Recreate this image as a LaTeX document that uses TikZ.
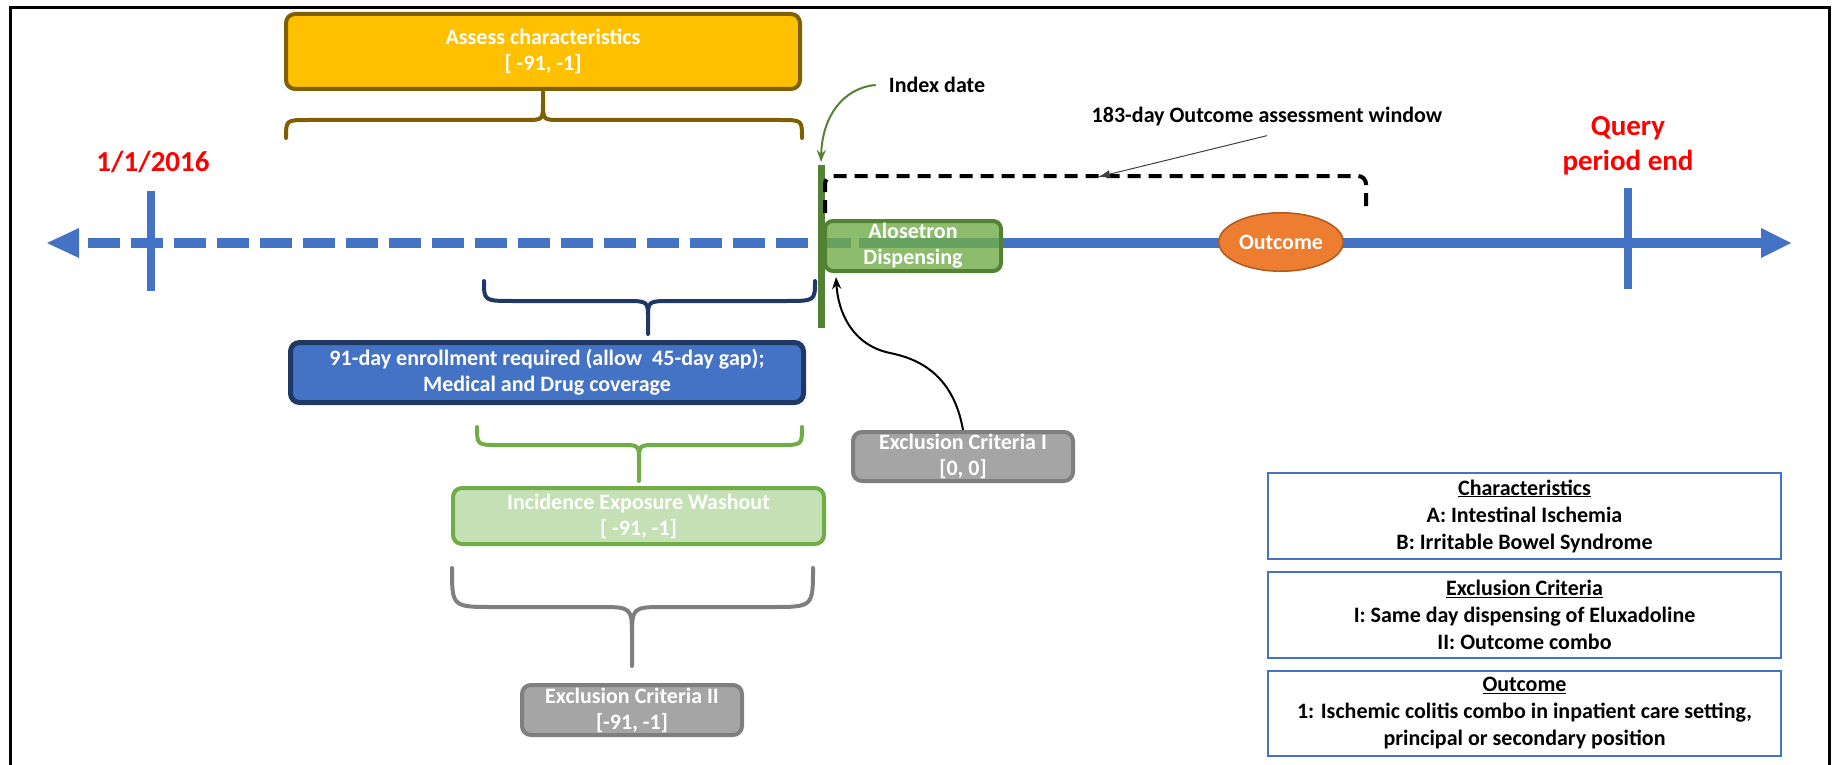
\documentclass[tikz,border=0pt]{standalone}
\usepackage{fontspec}
\setmainfont{Carlito}
\usetikzlibrary{arrows.meta,shapes.geometric}
\definecolor{axisblue}{HTML}{4472C4}
\definecolor{gold}{HTML}{FFC000}
\definecolor{goldB}{HTML}{7F6000}
\definecolor{navy}{HTML}{203864}
\definecolor{lgreen}{HTML}{C5E0B4}
\definecolor{mgreen}{HTML}{70AD47}
\definecolor{dgreen}{HTML}{548235}
\definecolor{gfill}{HTML}{A5A5A5}
\definecolor{gline}{HTML}{7F7F7F}
\definecolor{orangeF}{HTML}{ED7D31}
\definecolor{orangeB}{HTML}{AE5A21}
\definecolor{redT}{HTML}{FF0000}
\newcommand\regfont{\fontsize{22}{27}\selectfont\bfseries}
\newcommand\boldfont{\fontsize{22}{26}\selectfont\bfseries}
\newcommand\redfont{\fontsize{29}{35}\selectfont\bfseries}
% #1 style, #2 x1, #3 x2, #4 xt, #5 yend, #6 ymid, #7 ycurve, #8 ytip, #9 rx
\newcommand\mybrace[9]{%
  \draw[#1] (#2,#5) .. controls (#2,#6) .. ({#2+#9},#6) -- ({#4-0.8*#9},#6)
    .. controls (#4,#6) .. (#4,#7) -- (#4,#8) -- (#4,#7)
    .. controls (#4,#6) .. ({#4+0.8*#9},#6) -- ({#3-#9},#6)
    .. controls (#3,#6) .. (#3,#5);}
\begin{document}
\begin{tikzpicture}[x=1pt,y=-1pt,
  box/.style={draw, rounded corners=9pt, line width=4pt, align=center, inner sep=0pt, text=white, font=\boldfont},
  legbox/.style={draw=axisblue, line width=2pt, align=center, inner sep=0pt, font=\regfont, text=black, minimum width=513pt},
  lbl/.style={inner sep=0pt, font=\regfont, text=black},
  redlbl/.style={inner sep=0pt, font=\redfont, text=redT, align=center},
  bracestyle/.style={line width=4pt, line cap=round, line join=round}]
\useasboundingbox (0,0) rectangle (1833,765);
% frame
\draw[line width=3pt] (10,770) -- (10,8) -- (1829,8) -- (1829,770);

% axis
\draw[axisblue, line width=10.5pt, dash pattern=on 31.6pt off 11.4pt] (88,243) -- (853,243);
\draw[axisblue, line width=10.5pt] (859,243) -- (1763,243);
\fill[axisblue] (47,243) -- (79,228) -- (79,258) -- cycle;
\fill[axisblue] (1791,243) -- (1761,228) -- (1761,258) -- cycle;
\draw[axisblue, line width=7.5pt] (151,191) -- (151,291);
\draw[axisblue, line width=7.5pt] (1628,188) -- (1628,289);

% red labels
\node[redlbl] (start) at (153,162) {1/1/2016};
\node[redlbl] (qend) at (1628,146) {Query\\period end};

% assess box and brace
\node[box, draw=goldB, fill=gold, minimum width=514pt, minimum height=75pt] (assess) at (543,51.5) {Assess characteristics\\{[} -91, -1]};
\mybrace{bracestyle, goldB}{286}{802}{543}{138}{120}{102}{92}{22}

% index line
\draw[dgreen, line width=7pt] (821,165) -- (821,328);
\node[lbl] (idx) at (937,85) {Index date};
\coordinate (idxtop) at (821,162);
\draw[dgreen, line width=2pt, -{Stealth[length=12pt,width=9pt]}] ([xshift=-13pt]idx.west) .. controls (842,88) and (822,118) .. (idxtop);

% outcome window bracket
\draw[black, line width=4pt, dash pattern=on 13pt off 8pt, rounded corners=8pt] (825,213) -- (825,176) -- (1366,176) -- (1366,213);
\node[lbl] (win) at (1267,117) {183-day Outcome assessment window};
\coordinate (winptr) at (1098,177);
\draw[black!75, line width=1pt, -{Latex[length=12pt,width=8pt]}] ([yshift=-9pt]win.south) -- (winptr);

% Alosetron box
\node[box, draw=dgreen, fill=mgreen, fill opacity=0.8, text opacity=1, minimum width=176pt, minimum height=50pt, rounded corners=8pt] (alos) at (913,246) {Alosetron\\Dispensing};

% Outcome ellipse
\node[ellipse, draw=orangeB, fill=orangeF, line width=1.5pt, minimum width=124.5pt, minimum height=58.5pt, inner sep=0pt, text=white, font=\boldfont] (outc) at (1281,242) {Outcome};

% enrollment brace and box
\mybrace{bracestyle, navy}{484}{815}{648}{281}{301}{318}{334}{30}
\node[box, draw=navy, fill=axisblue, line width=5pt, minimum width=513pt, minimum height=60pt] (enroll) at (547,372.5) {91-day enrollment required (allow\ \ 45-day gap);\\Medical and Drug coverage};

% washout brace and box
\mybrace{bracestyle, mgreen}{477}{802}{639}{427}{445}{462}{481}{22}
\node[box, draw=mgreen, fill=lgreen, minimum width=371pt, minimum height=56pt] (wash) at (638.5,516) {Incidence Exposure Washout\\{[} -91, -1]};

% exclusion II brace and box
\mybrace{bracestyle, gline}{452}{813}{632}{568}{607}{638}{666}{42}
\node[box, draw=gline, fill=gfill, minimum width=220pt, minimum height=50pt] (excl2) at (632,710) {Exclusion Criteria II\\{[}-91, -1]};

% exclusion I box and arrow
\node[box, draw=gline, fill=gfill, minimum width=220pt, minimum height=49pt] (excl1) at (963,456.5) {Exclusion Criteria I\\{[}0, 0]};
\coordinate (alostip) at (836,277);
\draw[black, line width=2pt, -{Stealth[length=12pt,width=9pt]}] (excl1.north) .. controls (953,372) and (915,358) .. (890,353) .. controls (852,345) and (838,312) .. (alostip);

% legend
\node[legbox, minimum height=86pt] (leg1) at (1524.5,516) {\underline{Characteristics}\\A: Intestinal Ischemia\\B: Irritable Bowel Syndrome};
\node[legbox, minimum height=86pt] (leg2) at (1524.5,615) {\underline{Exclusion Criteria}\\I: Same day dispensing of Eluxadoline\\II: Outcome combo};
\node[legbox, minimum height=85pt] (leg3) at (1524.5,713.5) {\underline{Outcome}\\1: Ischemic colitis combo in inpatient care setting,\\principal or secondary position};
\end{tikzpicture}
\end{document}
